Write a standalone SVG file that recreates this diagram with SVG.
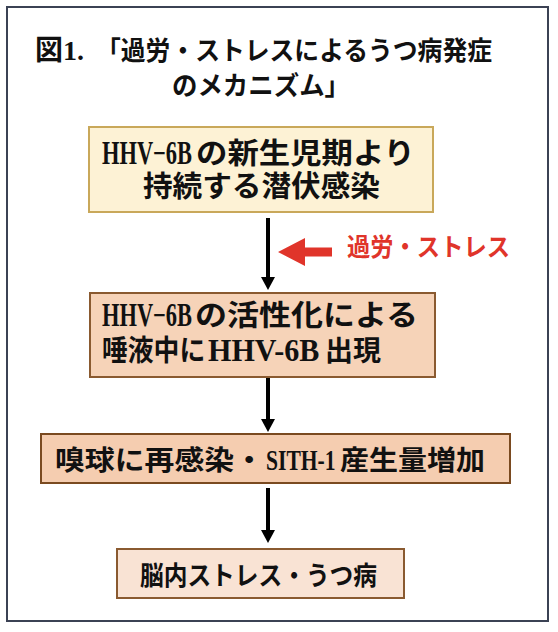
<svg xmlns="http://www.w3.org/2000/svg" width="558" height="632" viewBox="0 0 558 632">
<style>
.t{font-family:"Liberation Serif","Noto Sans CJK JP",serif;font-weight:bold;fill:#111;}
.j{font-family:"Liberation Serif","Noto Sans CJK JP",sans-serif;font-weight:bold;fill:#111;}
.box{stroke-width:2;}
.ln{stroke:#000;stroke-width:4;fill:none;}
.hd{fill:#000;}
</style>
<rect x="0" y="0" width="558" height="632" fill="#fff"/>
<rect x="7" y="7" width="541" height="614" fill="#fff" stroke="#3b4254" stroke-width="2"/>
<g id="title">
<text class="t" x="35" y="60" font-size="28">図1.</text>
<text class="j" x="96" y="60" font-size="26" textLength="396" lengthAdjust="spacingAndGlyphs">「過労・ストレスによるうつ病発症</text>
<text class="j" x="172" y="95" font-size="26" textLength="178" lengthAdjust="spacingAndGlyphs">のメカニズム」</text>
</g>
<g id="connectors">
<line class="ln" x1="268" y1="218" x2="268" y2="279"/>
<polygon class="hd" points="261,277 275,277 268,290"/>
<line class="ln" x1="268" y1="377" x2="268" y2="421"/>
<polygon class="hd" points="261,419 275,419 268,432"/>
<line class="ln" x1="268" y1="488" x2="268" y2="532"/>
<polygon class="hd" points="261,530 275,530 268,543"/>
<polygon fill="#e0342a" points="278,252 305,238 305,247.5 332,247.5 332,256.5 305,256.5 305,266"/>
</g>
<g id="node1">
<rect class="box" x="89" y="127" width="344" height="85" fill="#fdf2d5" stroke="#c9a85a"/>
<text class="t" transform="translate(102,164) scale(0.68,1)" x="0" y="0" font-size="33">HHV−6B</text>
<text class="j" x="196" y="164" font-size="29" textLength="219" lengthAdjust="spacingAndGlyphs">の新生児期より</text>
<text class="j" x="143" y="197" font-size="29" textLength="237" lengthAdjust="spacingAndGlyphs">持続する潜伏感染</text>
</g>
<g id="stress-label">
<text class="j" x="347" y="256" font-size="25" textLength="163" lengthAdjust="spacingAndGlyphs" style="fill:#e0342a">過労・ストレス</text>
</g>
<g id="node2">
<rect class="box" x="90" y="293" width="345" height="84" fill="#f6d3b8" stroke="#8a5a30"/>
<text class="t" transform="translate(102,326) scale(0.68,1)" x="0" y="0" font-size="33">HHV−6B</text>
<text class="j" x="195" y="326" font-size="29" textLength="223" lengthAdjust="spacingAndGlyphs">の活性化による</text>
<text class="j" transform="translate(102,361) scale(0.89,1)" x="0" y="0" font-size="29">唾液中に</text>
<text class="t" transform="translate(208,361) scale(0.94,1)" x="0" y="0" font-size="32">HHV-6B</text>
<text class="j" x="325" y="361" font-size="28">出現</text>
</g>
<g id="node3">
<rect class="box" x="41" y="434" width="469" height="49" fill="#f5cdb0" stroke="#7a4a20"/>
<text class="j" x="55" y="470" font-size="27" textLength="209" lengthAdjust="spacingAndGlyphs">嗅球に再感染・</text>
<text class="t" transform="translate(266,470) scale(0.72,1)" x="0" y="0" font-size="30">SITH-1</text>
<text class="j" x="340" y="470" font-size="27" textLength="145" lengthAdjust="spacingAndGlyphs">産生量増加</text>
</g>
<g id="node4">
<rect class="box" x="117" y="549" width="287" height="49" fill="#f9e3d4" stroke="#8a5a30"/>
<text class="j" x="140" y="585" font-size="26" textLength="237" lengthAdjust="spacingAndGlyphs">脳内ストレス・うつ病</text>
</g>
</svg>
